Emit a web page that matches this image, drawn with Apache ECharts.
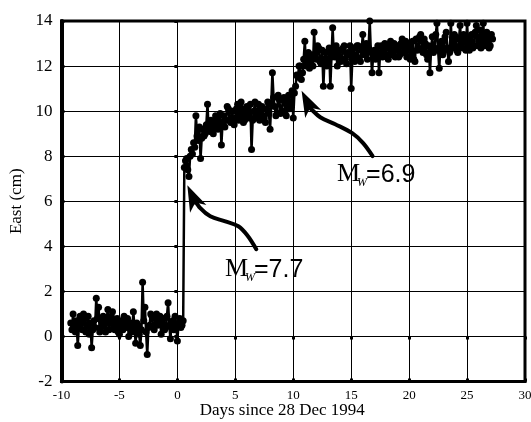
<!DOCTYPE html>
<html><head><meta charset="utf-8">
<script src="https://cdn.jsdelivr.net/npm/echarts@6/dist/echarts.min.js"></script>
<style>html,body{margin:0;padding:0;background:#fff}#c{width:531px;height:422px}</style>
</head><body><div id="c"></div>
<script>
// ---- data: [days since 28 Dec 1994, east displacement (cm)] ----
const beforeM77 = [
 [-9.2,0.6],[-9.1,0.3],[-9.0,1.0],[-8.9,0.5],[-8.8,0.2],[-8.7,0.7],[-8.6,-0.4],[-8.5,0.4],[-8.4,0.9],[-8.3,0.6],
 [-8.2,0.3],[-8.1,1.0],[-8.0,0.8],[-7.9,0.2],[-7.8,0.5],[-7.7,0.9],[-7.6,0.1],[-7.5,0.6],[-7.4,-0.5],[-7.3,0.3],
 [-7.2,0.7],[-7.1,0.4],[-7.0,1.7],[-6.9,0.8],[-6.8,1.3],[-6.7,0.2],[-6.6,0.4],[-6.5,0.7],[-6.4,0.9],[-6.3,0.5],
 [-6.2,0.2],[-6.1,0.8],[-6.0,1.2],[-5.9,0.3],[-5.8,0.6],[-5.7,0.9],[-5.6,1.1],[-5.5,0.4],[-5.4,0.3],[-5.3,0.7],
 [-5.2,0.8],[-5.1,0.2],[-5.0,0.1],[-4.9,0.6],[-4.8,0.7],[-4.7,0.3],[-4.6,0.9],[-4.5,0.5],[-4.4,0.4],[-4.3,0.8],
 [-4.2,0.0],[-4.1,0.5],[-4.0,0.6],[-3.9,0.2],[-3.8,1.1],[-3.7,0.4],[-3.6,-0.3],[-3.5,0.6],[-3.4,0.5],[-3.3,0.1],
 [-3.2,-0.4],[-3.1,0.3],[-3.0,2.4],[-2.9,0.7],[-2.8,1.3],[-2.7,0.2],[-2.6,-0.8],[-2.5,0.4],[-2.4,0.5],[-2.3,1.0],
 [-2.2,0.9],[-2.1,0.4],[-2.0,0.3],[-1.9,0.8],[-1.8,1.0],[-1.7,0.5],[-1.6,0.6],[-1.5,0.9],[-1.4,0.1],[-1.3,0.6],
 [-1.2,0.8],[-1.1,0.3],[-1.0,0.4],[-0.9,0.9],[-0.8,1.5],[-0.7,0.5],[-0.6,-0.1],[-0.5,0.6],[-0.4,0.7],[-0.3,0.3],
 [-0.2,0.9],[-0.1,0.5],[0.0,-0.2],[0.1,0.6],[0.2,0.8],[0.3,0.4],[0.4,0.5],[0.5,0.7]
];
const afterM77 = [
 [0.6,7.5],[0.7,7.8],[0.8,7.9],[0.9,7.4],[1.0,7.1],[1.1,8.0],[1.2,8.3],[1.3,8.1],[1.4,8.6],[1.5,8.4],
 [1.6,9.8],[1.7,8.9],[1.8,8.7],[1.9,9.3],[2.0,7.9],[2.1,8.8],[2.2,9.2],[2.3,8.9],[2.4,9.0],[2.5,9.4],
 [2.6,10.3],[2.7,9.2],[2.8,9.1],[2.9,9.6],[3.0,9.5],[3.1,9.0],[3.2,9.3],[3.3,9.8],[3.4,9.7],[3.5,9.2],
 [3.6,9.4],[3.7,9.9],[3.8,8.5],[3.9,9.5],[4.0,9.8],[4.1,9.3],[4.2,9.6],[4.3,10.2],[4.4,10.1],[4.5,9.6],
 [4.6,9.5],[4.7,10.0],[4.8,10.0],[4.9,9.4],[5.0,9.7],[5.1,10.1],[5.2,10.3],[5.3,9.6],[5.4,9.8],[5.5,10.4],
 [5.6,10.1],[5.7,9.5],[5.8,9.6],[5.9,10.0],[6.0,10.2],[6.1,9.7],[6.2,9.9],[6.3,10.3],[6.4,8.3],[6.5,9.6],
 [6.6,10.0],[6.7,10.4],[6.8,9.7],[6.9,9.9],[7.0,10.3],[7.1,9.6],[7.2,9.8],[7.3,10.2],[7.4,10.1],[7.5,9.7],
 [7.6,9.5],[7.7,10.1],[7.8,10.4],[7.9,9.9],[8.0,9.2],[8.1,10.3],[8.2,11.7],[8.3,10.6],[8.4,10.2],[8.5,9.8],
 [8.6,9.9],[8.7,10.7],[8.8,10.5],[8.9,9.9],[9.0,10.0],[9.1,10.5],[9.2,10.6],[9.3,10.0],[9.4,9.8],[9.5,10.4],
 [9.6,10.7],[9.7,10.1],[9.8,10.3],[9.9,10.9]
];
const afterM69 = [
 [10.0,9.7],[10.1,10.8],[10.2,11.1],[10.3,11.6],[10.4,11.5],[10.5,12.0],[10.6,12.0],[10.7,11.4],[10.8,11.7],[10.9,12.3],
 [11.0,13.1],[11.1,12.0],[11.2,12.2],[11.3,12.6],[11.4,11.9],[11.5,12.4],[11.6,12.5],[11.7,12.0],[11.8,13.5],[11.9,12.4],
 [12.0,12.3],[12.1,12.9],[12.2,12.8],[12.3,12.2],[12.4,12.1],[12.5,12.7],[12.6,11.1],[12.7,12.3],[12.8,12.6],[12.9,12.0],
 [13.0,12.2],[13.1,12.8],[13.2,11.1],[13.3,12.4],[13.4,13.7],[13.5,12.5],[13.6,12.4],[13.7,12.9],[13.8,12.0],[13.9,12.6],
 [14.0,12.7],[14.1,12.2],[14.2,12.3],[14.3,12.8],[14.4,12.9],[14.5,12.3],[14.6,12.1],[14.7,12.6],[14.8,12.5],[14.9,12.9],
 [15.0,11.0],[15.1,12.3],[15.2,12.8],[15.3,12.2],[15.4,12.4],[15.5,12.9],[15.6,12.9],[15.7,12.3],[15.8,12.2],[15.9,12.7],
 [16.0,13.4],[16.1,12.5],[16.2,12.6],[16.3,13.0],[16.4,12.3],[16.5,12.8],[16.6,14.0],[16.7,12.6],[16.8,11.7],[16.9,12.5],
 [17.0,12.7],[17.1,12.3],[17.2,12.4],[17.3,12.9],[17.4,11.7],[17.5,12.6],[17.6,12.9],[17.7,12.4],[17.8,12.5],[17.9,13.0],
 [18.0,12.8],[18.1,12.4],[18.2,12.3],[18.3,12.9],[18.4,13.1],[18.5,12.5],[18.6,12.6],[18.7,13.0],[18.8,12.4],[18.9,12.8],
 [19.0,12.9],[19.1,12.4],[19.2,12.5],[19.3,13.0],[19.4,13.2],[19.5,12.6],[19.6,12.7],[19.7,13.1],[19.8,12.4],[19.9,12.9],
 [20.0,13.0],[20.1,12.3],[20.2,12.6],[20.3,13.1],[20.4,12.3],[20.5,12.2],[20.6,13.2],[20.7,12.7],[20.8,12.8],[20.9,13.3],
 [21.0,13.4],[21.1,12.7],[21.2,12.6],[21.3,13.2],[21.4,13.0],[21.5,12.5],[21.6,12.3],[21.7,12.9],[21.8,11.7],[21.9,12.8],
 [22.0,13.3],[22.1,12.6],[22.2,12.8],[22.3,13.4],[22.4,13.9],[22.5,12.7],[22.6,11.9],[22.7,12.9],[22.8,13.1],[22.9,12.5],
 [23.0,12.7],[23.1,13.3],[23.2,13.5],[23.3,12.8],[23.4,12.2],[23.5,12.6],[23.6,13.9],[23.7,12.8],[23.8,12.9],[23.9,13.4],
 [24.0,13.3],[24.1,12.7],[24.2,12.6],[24.3,13.2],[24.4,13.8],[24.5,12.9],[24.6,12.8],[24.7,13.4],[24.8,13.2],[24.9,12.7],
 [25.0,13.9],[25.1,13.0],[25.2,12.7],[25.3,13.3],[25.4,13.4],[25.5,12.8],[25.6,12.9],[25.7,13.5],[25.8,13.8],[25.9,12.9],
 [26.0,13.1],[26.1,13.6],[26.2,12.8],[26.3,13.2],[26.4,13.9],[26.5,12.9],[26.6,13.0],[26.7,13.5],[26.8,13.3],[26.9,12.8],
 [27.0,12.9],[27.1,13.4],[27.2,13.2]
];
// axis ranges / ticks
const xRange = [-10, 30], xStep = 5;
const yRange = [-2, 14], yStep = 2;
// annotations (data coordinates): arrow paths tail -> tip, label anchor (left, baseline)
const arrow77 = [[6.81,3.87],[6.03,4.49],[5.26,4.89],[4.14,5.11],[2.84,5.33],[1.98,5.69],[1.38,6.13],[0.86,6.71]];
const arrow69 = [[16.85,8.0],[16.03,8.58],[15.09,9.02],[13.62,9.42],[12.33,9.73],[11.47,10.13],[10.72,10.9]];
const labels = [
  {anchor:[4.11,2.67], main:'M', sub:'W', value:'=7.7'},
  {anchor:[13.78,6.89], main:'M', sub:'W', value:'=6.9'}
];

const serif = '"Liberation Serif","Times New Roman",serif';
const chart = echarts.init(document.getElementById('c'), null, {renderer:'canvas'});
const tickDots = {show:true, inside:true, length:3, lineStyle:{color:'#000', width:3}};
chart.setOption({
  animation:false,
  backgroundColor:'#fff',
  grid:{left:61.5, right:6, top:21, bottom:40.5, containLabel:false, outerBoundsMode:'none',
        show:true, borderColor:'#000', borderWidth:3, backgroundColor:'transparent'},
  xAxis:[{
    type:'value', min:xRange[0], max:xRange[1], interval:xStep, position:'bottom',
    name:'Days since 28 Dec 1994', nameLocation:'middle', nameGap:21, nameMoveOverlap:false,
    nameTextStyle:{fontFamily:serif, fontSize:17, color:'#000', padding:[0,22,0,0]},
    axisLine:{show:true, onZero:false, lineStyle:{color:'#000', width:3}},
    axisTick:tickDots,
    axisLabel:{fontFamily:serif, fontSize:13, color:'#000', margin:8},
    splitLine:{show:true, lineStyle:{color:'#000', width:1}}
  },{
    type:'value', min:xRange[0], max:xRange[1], interval:xStep, position:'top',
    axisLine:{show:false}, axisTick:tickDots, axisLabel:{show:false}, splitLine:{show:false}
  }],
  yAxis:[{
    type:'value', min:yRange[0], max:yRange[1], interval:yStep, position:'left',
    name:'East (cm)', nameLocation:'middle', nameGap:36, nameMoveOverlap:false,
    nameTextStyle:{fontFamily:serif, fontSize:17, color:'#000'},
    axisLine:{show:true, onZero:false, lineStyle:{color:'#000', width:4}},
    axisTick:tickDots,
    axisLabel:{fontFamily:serif, fontSize:17, color:'#000', margin:9},
    splitLine:{show:true, lineStyle:{color:'#000', width:1}}
  },{
    type:'value', min:yRange[0], max:yRange[1], interval:yStep, position:'right',
    axisLine:{show:false}, axisTick:tickDots, axisLabel:{show:false}, splitLine:{show:false}
  }],
  series:[{
    type:'line', data:beforeM77.concat(afterM77, afterM69),
    symbol:'circle', symbolSize:7, showAllSymbol:true,
    itemStyle:{color:'#000'}, lineStyle:{color:'#000', width:2.5}, z:3
  }]
});

// annotations drawn through the chart's own coordinate conversion
function px(p){ return chart.convertToPixel({gridIndex:0}, p); }
const graphics = [];
function addArrow(path){
  const pts = path.map(px);
  const tip = pts[pts.length-1], prev = pts[pts.length-2];
  const dx = tip[0]-prev[0], dy = tip[1]-prev[1], L = Math.hypot(dx,dy);
  const ux = dx/L, uy = dy/L, nx = -uy, ny = ux;
  const len = 26, half = 9, notch = 19;
  graphics.push({type:'polyline', shape:{points:pts.slice(0,-1).concat([[tip[0]-ux*notch, tip[1]-uy*notch]]), smooth:0.35},
    style:{stroke:'#000', lineWidth:4, fill:null, lineCap:'round'}, z:10});
  graphics.push({type:'polygon', shape:{points:[
    tip,
    [tip[0]-ux*len+nx*half, tip[1]-uy*len+ny*half],
    [tip[0]-ux*notch, tip[1]-uy*notch],
    [tip[0]-ux*len-nx*half, tip[1]-uy*len-ny*half]
  ]}, style:{fill:'#000'}, z:10});
}
addArrow(arrow77);
addArrow(arrow69);
labels.forEach(l=>{
  const a = px(l.anchor);
  graphics.push({type:'text', x:a[0], y:a[1]+6, style:{text:l.main, font:'26px '+serif, fill:'#000', verticalAlign:'bottom', align:'left'}, z:10});
  graphics.push({type:'text', x:a[0]+20, y:a[1]+8, style:{text:l.sub, font:'italic 12px '+serif, fill:'#000', verticalAlign:'bottom', align:'left'}, z:10});
  graphics.push({type:'text', x:a[0]+29, y:a[1]+6, style:{text:l.value, font:'25px "Liberation Sans",Arial,sans-serif', fill:'#000', verticalAlign:'bottom', align:'left'}, z:10});
});
chart.setOption({graphic:graphics});
</script></body></html>
